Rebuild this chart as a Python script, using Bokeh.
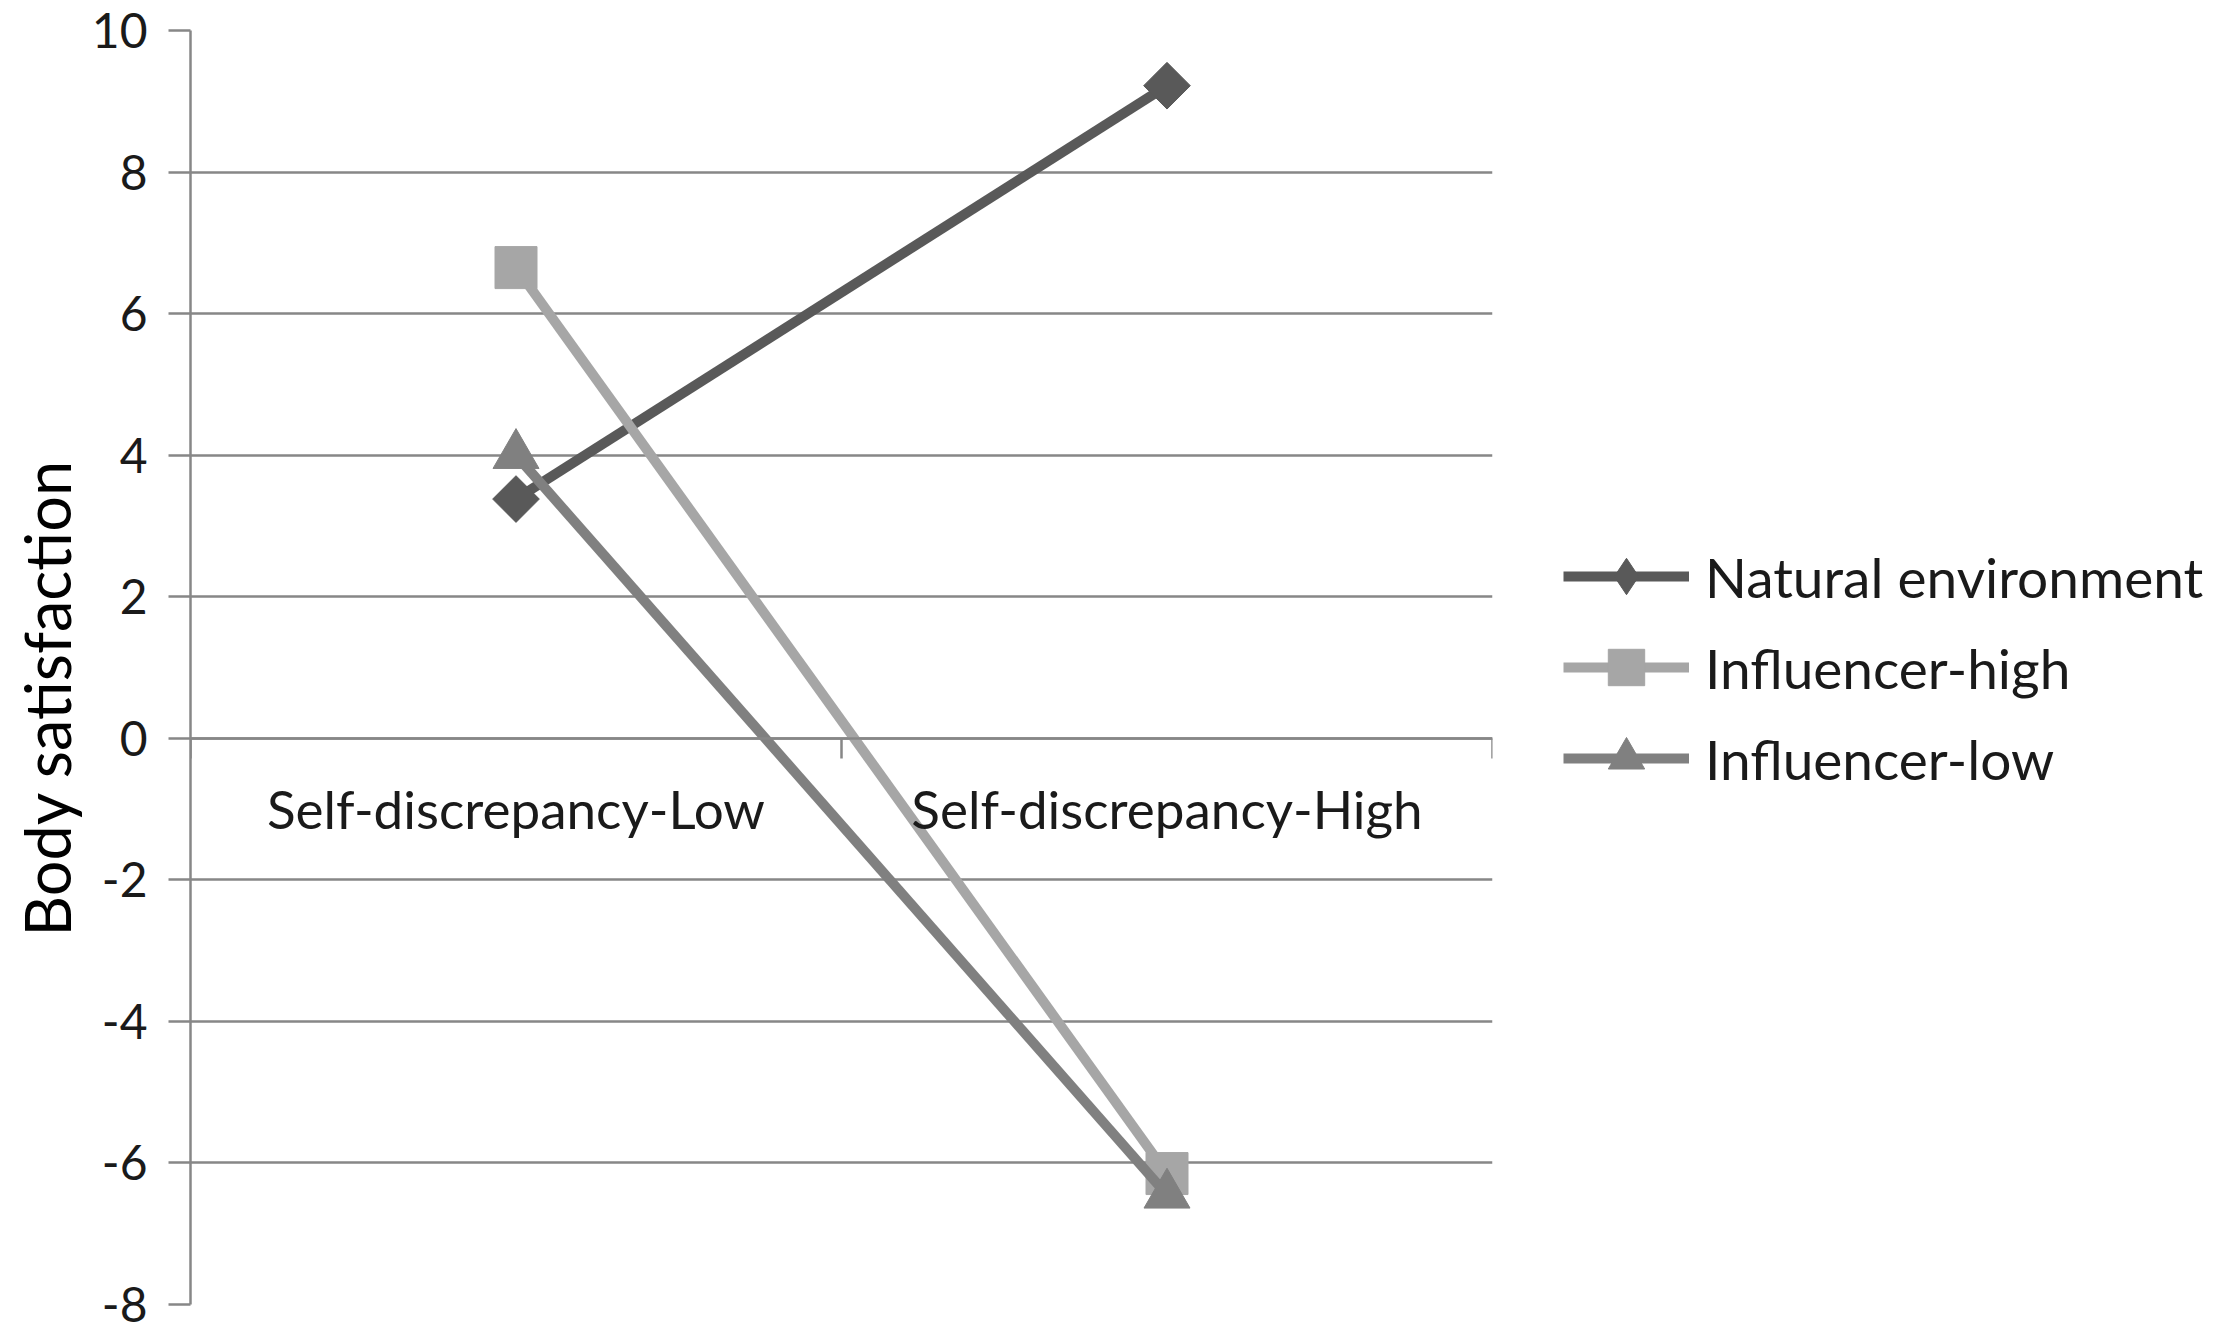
import math
from bokeh.plotting import figure
from bokeh.models import Range1d, Legend, LegendItem, FixedTicker, ColumnDataSource, Title
from bokeh.embed import file_html
from bokeh.resources import INLINE

# ---- data ----
categories = ["Self-discrepancy-Low", "Self-discrepancy-High"]
series_names = ["Natural environment", "Influencer-high", "Influencer-low"]
natural_environment = [3.38, 9.22]
influencer_high = [6.65, -6.15]
influencer_low = [4.0, -6.45]
y_ticks = [-8, -6, -4, -2, 0, 2, 4, 6, 8, 10]
y_title = "Body satisfaction"

FONT = "Lato"
GRID = "#878787"
TEXT = "#1a1a1a"

# category centres / boundaries on a numeric scale (one unit per category)
cat_centres = [i + 0.5 for i in range(len(categories))]
cat_bounds = [float(i) for i in range(len(categories) + 1)]

p = figure(
    x_range=Range1d(cat_bounds[0], cat_bounds[-1]),
    y_range=Range1d(y_ticks[0], y_ticks[-1]),
    frame_width=1302, frame_height=1274,
    min_border_left=190, min_border_top=30, min_border_bottom=28, min_border_right=0,
    output_backend="svg", toolbar_location=None,
    background_fill_color="white", border_fill_color="white",
)
p.outline_line_color = None

# y axis
yax = p.yaxis[0]
yax.ticker = FixedTicker(ticks=y_ticks)
yax.major_label_overrides = {t: str(t) for t in y_ticks}
yax.axis_line_color = GRID
yax.axis_line_width = 2.5
yax.major_tick_line_color = GRID
yax.major_tick_line_width = 2.5
yax.major_tick_out = 22
yax.major_tick_in = 0
yax.minor_tick_line_color = None
yax.major_label_text_font = FONT
yax.major_label_text_font_size = "48px"
yax.major_label_text_color = TEXT
yax.major_label_standoff = 21

# y-axis title, set in the left panel so that it can sit a little below centre
ytitle = Title(text=y_title, align="left", offset=368, standoff=6, vertical_align="top",
               text_font=FONT, text_font_size="63px", text_font_style="normal",
               text_color="#000000")
p.add_layout(ytitle, "left")

# x axis drawn at y = 0 (category axis crossing)
xax = p.xaxis[0]
xax.fixed_location = 0
xax.ticker = FixedTicker(ticks=cat_centres, minor_ticks=cat_bounds)
xax.major_label_overrides = {c: lab for c, lab in zip(cat_centres, categories)}
xax.axis_line_color = GRID
xax.axis_line_width = 2.5
xax.major_tick_line_color = None
xax.minor_tick_line_color = GRID
xax.minor_tick_line_width = 2.5
xax.minor_tick_out = 20
xax.minor_tick_in = 0
xax.major_label_text_font = FONT
xax.major_label_text_font_size = "53px"
xax.major_label_text_color = TEXT
xax.major_label_standoff = 19

p.xgrid.grid_line_color = None
p.ygrid.grid_line_color = GRID
p.ygrid.grid_line_width = 2.5

# name, values, colour, plot marker, size, angle, key marker
series = [
    (series_names[0], natural_environment, "#595959", "square", 33, math.pi / 4, "diamond"),
    (series_names[1], influencer_high, "#a6a6a6", "square", 42, 0.0, "square"),
    (series_names[2], influencer_low, "#808080", "triangle", 46, 0.0, "triangle"),
]

items = []
for name, vals, col, marker, size, ang, key_marker in series:
    src = ColumnDataSource(dict(x=cat_centres, y=vals))
    ln = p.line("x", "y", source=src, line_color=col, line_width=10)
    sc = p.scatter("x", "y", source=src, marker=marker, size=size, angle=ang,
                   fill_color=col, line_color=col)
    if key_marker != marker:
        # key-only proxy glyph (the key shows the diamond upright); its NaN y keeps it
        # out of the plot area
        proxy = ColumnDataSource(dict(x=cat_centres, y=[float("nan")] * len(cat_centres)))
        sc = p.scatter("x", "y", source=proxy, marker=key_marker,
                       fill_color=col, line_color=col)
    items.append(LegendItem(label=name, renderers=[ln, sc]))

legend = Legend(items=items, location="center_left")
legend.margin = 71
legend.padding = 0
legend.label_standoff = 16
legend.glyph_width = 126
legend.glyph_height = 91
legend.label_height = 60
legend.spacing = 0
legend.label_text_font = FONT
legend.label_text_font_size = "55px"
legend.label_text_color = TEXT
legend.border_line_color = None
legend.background_fill_alpha = 0
p.add_layout(legend, "right")

open("out.html", "w").write(file_html(p, INLINE))
